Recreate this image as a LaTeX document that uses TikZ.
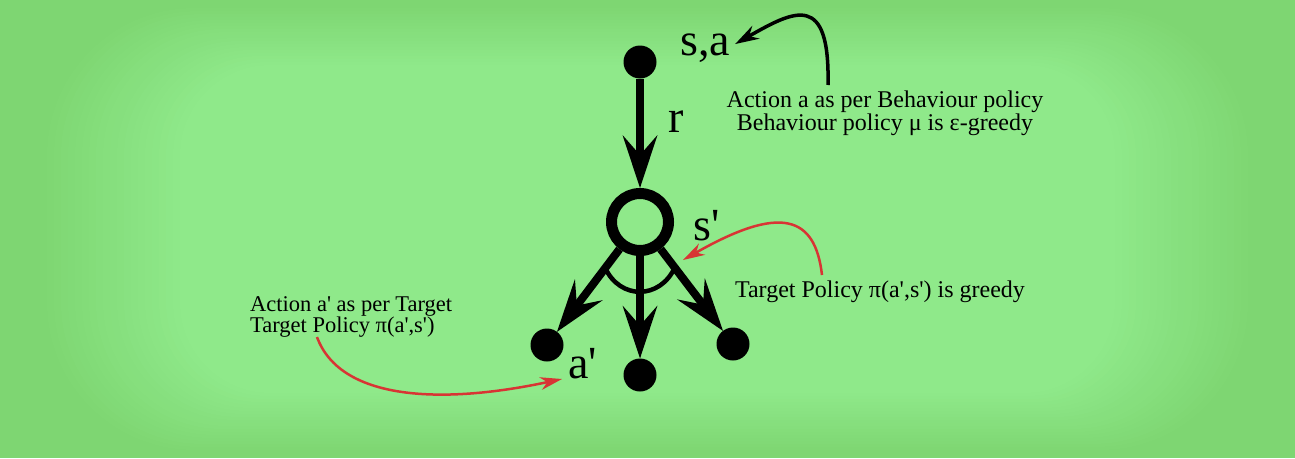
\documentclass[tikz,border=0pt]{standalone}
\usepackage{fontspec}
\setmainfont{Liberation Serif}[Ligatures=TeXOff]
\usetikzlibrary{arrows.meta,calc}
\definecolor{bgout}{HTML}{7ED672}
\definecolor{bgin}{HTML}{8FE98A}
\definecolor{redarr}{HTML}{D83434}
\tikzset{
  dot/.style={circle, fill=black, minimum size=33pt, inner sep=0pt, outer sep=0pt},
  ringnode/.style={circle, draw=black, line width=11pt, minimum size=57pt, inner sep=0pt, outer sep=5.5pt},
  bigarrow/.style={line width=8pt, -{Stealth[length=53pt,width=35pt,inset=20pt,line width=0pt]}},
  biglabel/.style={font=\fontsize{46}{46}\selectfont, inner sep=0pt, anchor=base west},
  note/.style={font=\fontsize{24}{20}\selectfont, inner sep=0pt},
  blackarrow/.style={line width=3.5pt, -{Stealth[length=24pt,width=15pt,inset=8pt,line width=0pt]}},
  redarrow/.style={draw=redarr, line width=2.5pt, -{Stealth[length=22pt,width=13pt,inset=7pt,line width=0pt]}},
}
\begin{document}
\begin{tikzpicture}[x=1pt,y=-1pt]
\useasboundingbox (0,0) rectangle (1295,458);
% background vignette
\fill[bgout] (0,0) rectangle (1295,458);
\foreach \i in {1,...,20} {
  \pgfmathsetmacro\ix{40+7*\i}
  \pgfmathsetmacro\iy{5+3*\i}
  \pgfmathsetmacro\rr{150-3*\i}
  \pgfmathtruncatemacro\p{5*\i}
  \fill[bgin!\p!bgout, rounded corners=\rr pt] (\ix,\iy) rectangle (1295-\ix,458-\iy);
}
% nodes
\node[dot] (top) at (640,62) {};
\node[ringnode] (ring) at (640,222) {};
\node[dot] (ld) at (547,345) {};
\node[dot] (md) at (640,375) {};
\node[dot] (rd) at (733,344) {};
% connectors
\draw[bigarrow] (top) -- (ring);
\draw[bigarrow] (ring) -- (ld);
\draw[bigarrow] (ring) -- (md);
\draw[bigarrow] (ring) -- (rd);
\coordinate (arcL) at ($(ring.center)!0.374!(ld.center)$);
\coordinate (arcR) at ($(ring.center)!0.374!(rd.center)$);
\draw[line width=4.5pt] (arcL) .. controls ($(arcL)+(15,32)$) and ($(arcR)+(-15,32)$) .. (arcR);
% labels
\node[biglabel] (sa) at (680,55) {s,a};
\node[biglabel] (r) at (668,132) {r};
\node[biglabel] (sp) at (693,240) {s'};
\node[biglabel] (ap) at (568,378) {a'};
% notes
\node[note, align=center, anchor=north] (n1) at (885,91) {Action a as per Behaviour policy\\Behaviour policy μ is ε-greedy};
\node[note, anchor=base] (n2) at (880,297) {Target Policy π(a',s') is greedy};
\node[note, font=\fontsize{22.5}{21}\selectfont, align=left, anchor=north west] (n3) at (250,296) {Action a' as per Target\\Target Policy π(a',s')};
% annotation arrows
\coordinate (b1s) at ($(n1.north)+(-57,-6)$);
\coordinate (b1e) at ($(sa.base east)+(5,-11)$);
\draw[blackarrow] (b1s) .. controls ($(b1s)+(2,-93)$) and ($(b1s)+(-33,-75)$) .. (b1e);
\coordinate (r1s) at (822,275);
\coordinate (r1e) at (683,260);
\draw[redarrow] (r1s) .. controls (815,215) and (780,205) .. (r1e);
\coordinate (r2s) at (317,337);
\coordinate (r2e) at (562,379);
\draw[redarrow] (r2s) .. controls (340,400) and (440,405) .. (r2e);
\end{tikzpicture}
\end{document}
